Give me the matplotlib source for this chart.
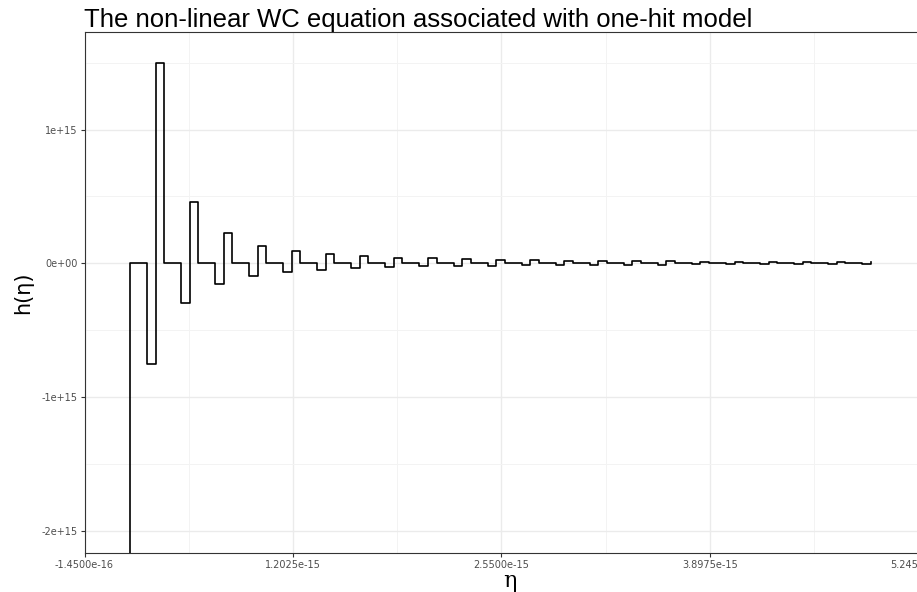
import numpy as np
import matplotlib
matplotlib.use("Agg")
import matplotlib.pyplot as plt
from matplotlib.ticker import FixedLocator

# ==============================
# DATA
# ==============================

# eta grid: first and last point, number of points
eta_first = 0.94e-16
eta_last = 4.938e-15
n_points = 89

# value before the first jump (off the bottom of the panel)
h_start = -3.0e15

# each cycle is: 0, 0, dip, peak
dips = [-0.750e15, -0.295e15, -0.155e15, -0.095e15, -0.065e15, -0.047e15,
        -0.036e15, -0.029e15, -0.024e15, -0.020e15, -0.017e15, -0.015e15,
        -0.013e15, -0.012e15, -0.011e15, -0.010e15, -0.009e15, -0.008e15,
        -0.008e15, -0.007e15, -0.007e15, -0.006e15]
peaks = [1.500e15, 0.456e15, 0.224e15, 0.132e15, 0.092e15, 0.068e15,
         0.053e15, 0.043e15, 0.036e15, 0.030e15, 0.026e15, 0.023e15,
         0.020e15, 0.018e15, 0.016e15, 0.015e15, 0.013e15, 0.012e15,
         0.011e15, 0.011e15, 0.010e15, 0.009e15]

x_breaks = [-1.45e-16, 1.2025e-15, 2.55e-15, 3.8975e-15, 5.245e-15]
x_labels = ["-1.4500e-16", "1.2025e-15", "2.5500e-15", "3.8975e-15", "5.2450e-15"]
y_breaks = [-2e15, -1e15, 0, 1e15]
y_labels = ["-2e+15", "-1e+15", "0e+00", "1e+15"]

h = [h_start]
for d, p in zip(dips, peaks):
    h += [0.0, 0.0, d, p]
eta = np.linspace(eta_first, eta_last, n_points)

# ==============================
# PLOT
# ==============================

W, H = 917, 592
fig = plt.figure(figsize=(W / 100, H / 100), dpi=100)
fig.patch.set_facecolor("white")

left_px, right_px, top_px, bottom_px = 84.5, 934.5, 32, 553
ax = fig.add_axes([left_px / W, 1 - bottom_px / H,
                   (right_px - left_px) / W, (bottom_px - top_px) / H])

ax.step(eta, h, where="post", color="black", lw=1.2, zorder=3)

ax.set_xlim(-1.45e-16, 5.35e-15)
ax.set_ylim(-2.167e15, 1.730e15)

ax.xaxis.set_major_locator(FixedLocator(x_breaks))
ax.set_xticklabels(x_labels)
ax.yaxis.set_major_locator(FixedLocator(y_breaks))
ax.set_yticklabels(y_labels)

x_minor = [(a + b) / 2 for a, b in zip(x_breaks[:-1], x_breaks[1:])]
y_minor = [-1.5e15, -0.5e15, 0.5e15, 1.5e15]
ax.xaxis.set_minor_locator(FixedLocator(x_minor))
ax.yaxis.set_minor_locator(FixedLocator(y_minor))

ax.grid(which="major", color="#EBEBEB", lw=1.0, zorder=0)
ax.grid(which="minor", color="#F3F3F3", lw=0.7, zorder=0)
ax.tick_params(which="minor", length=0)
ax.tick_params(which="major", length=3, width=0.8, color="#333333",
               labelsize=7, labelcolor="#4D4D4D", pad=2)

for s in ax.spines.values():
    s.set_color("#333333")
    s.set_linewidth(0.8)

ax.set_xlabel("η", fontsize=16, family="DejaVu Serif", labelpad=0)
ax.set_ylabel("h(η)", fontsize=15, labelpad=6)

fig.text(left_px / W, 1 - 27 / H,
         "The non-linear WC equation associated with one-hit model",
         fontsize=18.5, family="Liberation Sans", ha="left", va="baseline")

fig.savefig("out.png", dpi=100)
